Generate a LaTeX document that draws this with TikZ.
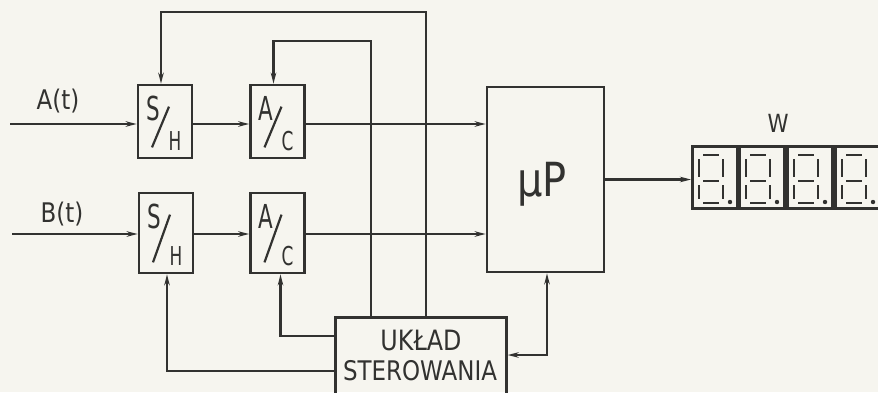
\documentclass[tikz,border=0pt]{standalone}
\usepackage{fontspec}
\setmainfont{DejaVu Sans}[FakeStretch=0.85]
\newfontfamily\narrowfont{DejaVu Sans}[FakeStretch=0.65]
\usetikzlibrary{arrows.meta}
\definecolor{ink}{RGB}{50,50,48}
\definecolor{paper}{RGB}{246,245,239}
\newcommand\fraclbl[3]{%
  \node[lbl,font=\narrowfont\fontsize{33}{33}\selectfont] (#1-n) at ([shift={(-12,25)}]#1.north) {#2};
  \node[lbl,font=\narrowfont\fontsize{26}{26}\selectfont] (#1-d) at ([shift={(10,-18)}]#1.south) {#3};
  \draw[wire] ([shift={(-13,-12)}]#1.south) -- ([shift={(4,23)}]#1.north);
}
\begin{document}
\begin{tikzpicture}[x=1pt,y=-1pt,
  box/.style={draw=ink,line width=2.7pt,rectangle,inner sep=0pt},
  wire/.style={draw=ink,line width=2.2pt},
  seg/.style={draw=ink,line width=2.8pt},
  arr/.style={-{Stealth[length=11pt,width=5.5pt]}},
  biarr/.style={{Stealth[length=11pt,width=5.5pt]}-{Stealth[length=11pt,width=5.5pt]}},
  lbl/.style={text=ink,inner sep=0pt}]
\fill[paper] (0,0) rectangle (878,392);
\useasboundingbox (0,0) rectangle (878,392);
\clip (0,0) rectangle (878,392);

% blocks
\node[box,minimum width=54pt,minimum height=73pt] (sh1) at (165,121.5) {};
\node[box,minimum width=54pt,minimum height=73pt] (ac1) at (277.5,121.5) {};
\node[box,minimum width=54pt,minimum height=80pt] (sh2) at (166,233) {};
\node[box,minimum width=54pt,minimum height=80pt] (ac2) at (277.5,233) {};
\node[box,minimum width=117pt,minimum height=185pt] (up) at (545.5,179.5) {};
\node[box,minimum width=171pt,minimum height=110pt,anchor=north west] (uk) at (334,316) {};

% block labels
\fraclbl{sh1}{S}{H}
\fraclbl{ac1}{A}{C}
\fraclbl{sh2}{S}{H}
\fraclbl{ac2}{A}{C}
\node[lbl,font=\fontsize{47}{47}\selectfont] (upl) at (542,184) {µP};
\node[lbl,font=\fontsize{28}{28}\selectfont] (ukl1) at (421,340) {UKŁAD};
\node[lbl,font=\fontsize{27}{27}\selectfont] (ukl2) at (420,371) {STEROWANIA};
\node[lbl,font=\fontsize{27}{27}\selectfont] (al) at (58,101) {A(t)};
\node[lbl,font=\fontsize{27}{27}\selectfont] (bl) at (62,214) {B(t)};
\node[lbl,font=\fontsize{25}{25}\selectfont] (wl) at (778,123) {W};

% display
\foreach \i/\x in {1/691,2/738,3/786,4/834} {
  \node[box,minimum width=45pt,minimum height=62pt,anchor=north west] (d\i) at (\x,145) {};
  \draw[seg] (\x+12,155) -- (\x+28,155);
  \draw[seg] (\x+12,181) -- (\x+28,181);
  \draw[seg] (\x+12,203) -- (\x+28,203);
  \draw[seg] (\x+8,159) -- (\x+8,177);
  \draw[seg] (\x+32,159) -- (\x+32,177);
  \draw[seg] (\x+8,185) -- (\x+8,199);
  \draw[seg] (\x+32,185) -- (\x+32,199);
  \fill[ink] (\x+39,202) circle (2.2pt);
}

% signal paths
\coordinate (ain) at (10,124);
\coordinate (bin) at (12,234);
\draw[wire,arr] (ain) -- (ain -| sh1.west);
\draw[wire,arr] (ain -| sh1.east) -- (ain -| ac1.west);
\draw[wire,arr] (ain -| ac1.east) -- (ain -| up.west);
\draw[wire,arr] (bin) -- (bin -| sh2.west);
\draw[wire,arr] (bin -| sh2.east) -- (bin -| ac2.west);
\draw[wire,arr] (bin -| ac2.east) -- (bin -| up.west);
\draw[wire,arr] (up.east) -- (up.east -| d1.west);

% control lines
\draw[wire,arr] ([xshift=92pt]uk.north west) |- ([xshift=-4pt,yshift=72pt]sh1.north) -- ([xshift=-4pt]sh1.north);
\draw[wire,arr] ([xshift=37pt]uk.north west) |- ([xshift=-4pt,yshift=43pt]ac1.north) -- ([xshift=-4pt]ac1.north);
\draw[wire,arr] ([yshift=-55pt]uk.north west) -| ([xshift=1pt]sh2.south);
\draw[wire,arr] ([yshift=-20pt]uk.north west) -| ([xshift=3pt]ac2.south);
\draw[wire,biarr] ([yshift=-39pt]uk.north east) -| ([xshift=1.5pt]up.south);
\end{tikzpicture}
\end{document}
